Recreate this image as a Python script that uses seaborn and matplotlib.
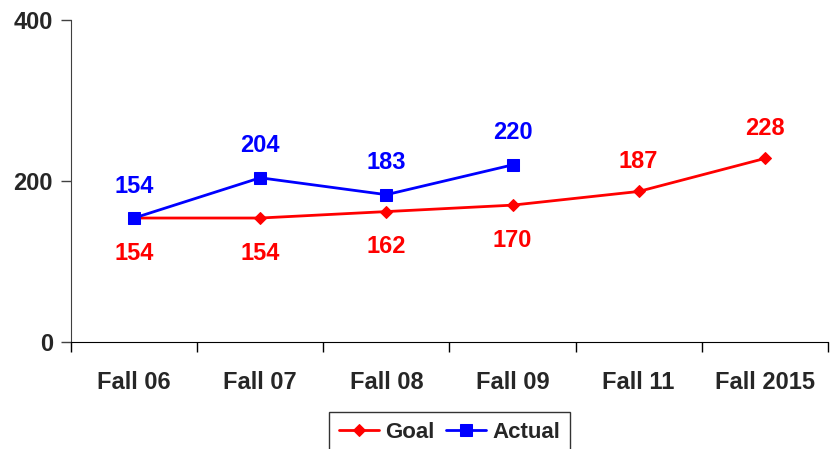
import matplotlib
matplotlib.use("Agg")
import matplotlib.pyplot as plt
import numpy as np
import pandas as pd
import seaborn as sns

categories = ["Fall 06", "Fall 07", "Fall 08", "Fall 09", "Fall 11", "Fall 2015"]
goal = [154, 154, 162, 170, 187, 228]
actual = [154, 204, 183, 220, np.nan, np.nan]
goal_label_above = [False, False, False, False, True, True]

RED = "#FF0000"
BLUE = "#0000FF"


def main():
    sns.set_style("white")
    plt.rcParams["font.family"] = ["Liberation Sans", "DejaVu Sans"]
    plt.rcParams["font.weight"] = "bold"

    pos = np.arange(len(categories))
    df = pd.DataFrame({"pos": pos, "Goal": goal, "Actual": actual})

    fig = plt.figure(figsize=(8.3, 4.49), dpi=100)
    ax = fig.add_axes([0.0855, 0.2383, 0.912, 0.7172])

    sns.lineplot(ax=ax, data=df, x="pos", y="Goal", color=RED, marker="D",
                 markersize=6, markeredgecolor=RED, linewidth=2, label="Goal")
    sns.lineplot(ax=ax, data=df.dropna(), x="pos", y="Actual", color=BLUE, marker="s",
                 markersize=8, markeredgecolor=BLUE, linewidth=2, label="Actual")

    # data labels
    for i, v in enumerate(goal):
        dy = 30 if goal_label_above[i] else -35
        ax.annotate(f"{v}", (pos[i], v), xytext=(0, dy), textcoords="offset pixels",
                    ha="center", va="center", color=RED, fontsize=17, fontweight="bold")
    for i, v in enumerate(actual):
        if np.isnan(v):
            continue
        ax.annotate(f"{int(v)}", (pos[i], v), xytext=(0, 32), textcoords="offset pixels",
                    ha="center", va="center", color=BLUE, fontsize=17, fontweight="bold")

    ax.set_xlim(-0.5, len(categories) - 0.5)
    ax.set_ylim(0, 400)
    ax.set_yticks([0, 200, 400])
    ax.set_xticks(pos)
    ax.set_xticklabels(categories)
    ax.set_xticks(np.arange(-0.5, len(categories)), minor=True)
    ax.tick_params(axis="x", which="major", length=0, pad=21, labelsize=17)
    ax.tick_params(axis="x", which="minor", length=7, width=1, direction="out", color="black")
    ax.tick_params(axis="y", length=7, width=1, direction="out", labelsize=17, pad=6, color="#404040")
    ax.xaxis.set_tick_params(bottom=True, which="both")
    ax.yaxis.set_tick_params(left=True)
    for lab in ax.get_xticklabels() + ax.get_yticklabels():
        lab.set_fontweight("bold")
    ax.set_xlabel("")
    ax.set_ylabel("")

    sns.despine(ax=ax)
    ax.spines["left"].set_color("#404040")
    ax.spines["bottom"].set_color("black")

    leg = ax.legend(loc="upper center", bbox_to_anchor=(0.5, -0.217), ncol=2,
                    frameon=True, fancybox=False, fontsize=16, handlelength=1.8,
                    columnspacing=0.5, handletextpad=0.3, borderpad=0.45,
                    borderaxespad=0)
    leg.get_frame().set_edgecolor("black")
    leg.get_frame().set_linewidth(1)
    for t in leg.get_texts():
        t.set_fontweight("bold")

    fig.savefig("out.png", dpi=100)
    plt.close(fig)


if __name__ == "__main__":
    main()
